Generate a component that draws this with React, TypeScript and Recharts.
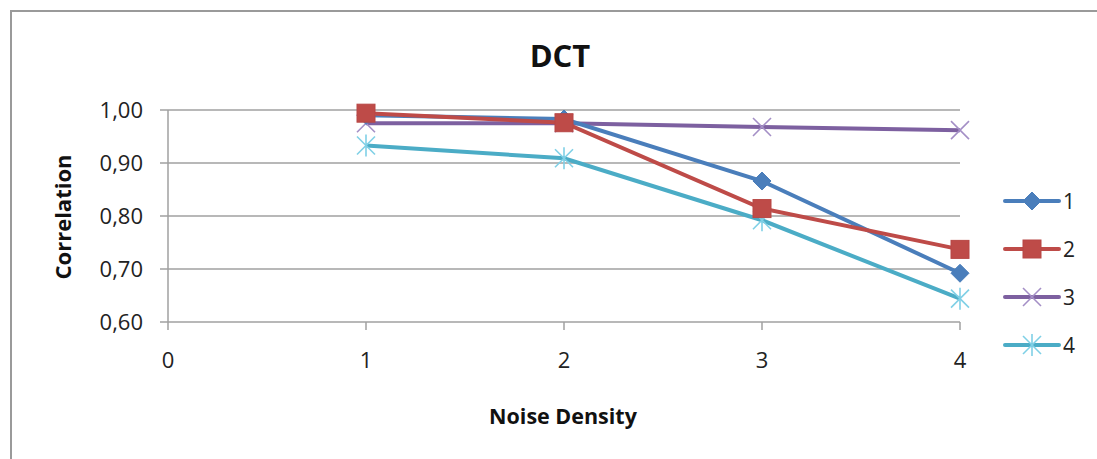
import React from "react";
import { LineChart, Line, XAxis, YAxis, CartesianGrid, Legend } from "recharts";

const noiseDensity = [1, 2, 3, 4];
const series1 = [0.99, 0.983, 0.866, 0.692];
const series2 = [0.994, 0.976, 0.814, 0.737];
const series3 = [0.975, 0.975, 0.968, 0.962];
const series4 = [0.933, 0.909, 0.792, 0.644];
const seriesNames = ["1", "2", "3", "4"];
const xTicks = [0, 1, 2, 3, 4];
const yTicks = [0.6, 0.7, 0.8, 0.9, 1.0];

const data = noiseDensity.map((x, i) => ({
  x,
  s1: series1[i],
  s2: series2[i],
  s3: series3[i],
  s4: series4[i],
}));

const FONT = "'Open Sans', 'DejaVu Sans', sans-serif";
const COLORS = ["#4a7ebb", "#be4b48", "#7d60a0", "#4bacc6"];
const MARK_COLORS = ["#4a7ebb", "#be4b48", "#a48fc6", "#7fd0e6"];

function Marker({ kind, cx, cy }: { kind: number; cx: number; cy: number }) {
  if (kind === 0) {
    const r = 9;
    return (
      <path
        d={`M${cx},${cy - r} L${cx + r},${cy} L${cx},${cy + r} L${cx - r},${cy} Z`}
        fill={MARK_COLORS[0]}
        stroke={MARK_COLORS[0]}
      />
    );
  }
  if (kind === 1) {
    const h = 9;
    return <rect x={cx - h} y={cy - h} width={2 * h} height={2 * h} fill={MARK_COLORS[1]} stroke="#b84744" strokeWidth={1} />;
  }
  if (kind === 2) {
    const h = 9;
    return (
      <g stroke={MARK_COLORS[2]} strokeWidth={1.6}>
        <line x1={cx - h} y1={cy - h} x2={cx + h} y2={cy + h} />
        <line x1={cx - h} y1={cy + h} x2={cx + h} y2={cy - h} />
      </g>
    );
  }
  const h = 9;
  return (
    <g stroke={MARK_COLORS[3]} strokeWidth={1.6}>
      <line x1={cx - h} y1={cy - h} x2={cx + h} y2={cy + h} />
      <line x1={cx - h} y1={cy + h} x2={cx + h} y2={cy - h} />
      <line x1={cx} y1={cy - h - 2} x2={cx} y2={cy + h + 2} />
    </g>
  );
}

const makeDot = (kind: number) => (props: any) => {
  const { cx, cy, index } = props;
  if (cx == null || cy == null) return <g key={`d${kind}-${index}`} />;
  return (
    <g key={`d${kind}-${index}`}>
      <Marker kind={kind} cx={cx} cy={cy} />
    </g>
  );
};

const LegendContent = () => (
  <div style={{ fontFamily: FONT }}>
    {seriesNames.map((name, i) => (
      <div key={name} style={{ display: "flex", alignItems: "center", height: 48 }}>
        <svg width={58} height={24} style={{ display: "block" }}>
          <line x1={2} y1={12} x2={56} y2={12} stroke={COLORS[i]} strokeWidth={4} strokeLinecap="round" />
          <Marker kind={i} cx={29} cy={12} />
        </svg>
        <span style={{ fontSize: 21, color: "#222", marginLeft: 2, lineHeight: "24px" }}>{name}</span>
      </div>
    ))}
  </div>
);

const fmt = (v: number) => v.toFixed(2).replace(".", ",");

export default function App() {
  return (
    <div style={{ position: "absolute", left: 0, top: 0, width: 1097, height: 459, background: "#fff", overflow: "hidden" }}>
      <div style={{ position: "absolute", left: 10, top: 10, width: 1087, height: 2, background: "#9a9a9a" }} />
      <div style={{ position: "absolute", left: 10, top: 10, width: 2, height: 449, background: "#9a9a9a" }} />
      <div
        style={{
          position: "absolute",
          left: 0,
          width: 1120,
          top: 34,
          textAlign: "center",
          fontFamily: FONT,
          fontWeight: 700,
          fontSize: 31,
          color: "#111",
        }}
      >
        DCT
      </div>
      <div
        style={{
          position: "absolute",
          left: 0,
          width: 1126,
          top: 401,
          textAlign: "center",
          fontFamily: FONT,
          fontWeight: 700,
          fontSize: 21.5,
          color: "#111",
        }}
      >
        Noise Density
      </div>
      <div
        style={{
          position: "absolute",
          left: 62,
          top: 217,
          transform: "translate(-50%, -50%) rotate(-90deg)",
          fontFamily: FONT,
          fontWeight: 700,
          fontSize: 22,
          color: "#111",
          whiteSpace: "nowrap",
        }}
      >
        Correlation
      </div>
      <div style={{ position: "absolute", left: 0, top: 0 }}>
        <LineChart width={1097} height={459} data={data} margin={{ top: 110, right: 47, bottom: 77, left: 68 }}>
          <CartesianGrid horizontal vertical={false} stroke="#a0a0a0" strokeWidth={1.5} />
          <XAxis
            dataKey="x"
            type="number"
            domain={[0, 4]}
            ticks={xTicks}
            axisLine={false}
            tickLine={{ stroke: "#a0a0a0", strokeWidth: 1.5 }}
            tickSize={8}
            tickMargin={22}
            height={60}
            tick={{ fontFamily: FONT, fontSize: 22, fill: "#222" }}
            interval={0}
          />
          <YAxis
            type="number"
            domain={[0.6, 1.0]}
            ticks={yTicks}
            tickFormatter={fmt}
            axisLine={{ stroke: "#a0a0a0", strokeWidth: 1.5 }}
            tickLine={{ stroke: "#a0a0a0", strokeWidth: 1.5 }}
            tickSize={8}
            tickMargin={17}
            width={100}
            tick={{ fontFamily: FONT, fontSize: 22, fill: "#222" }}
            interval={0}
          />
          <Legend
            layout="horizontal"
            verticalAlign="middle"
            align="right"
            content={<LegendContent />}
            wrapperStyle={{ position: "absolute", left: 1003, top: 177, width: 90 }}
          />
          <Line dataKey="s3" name="3" stroke={COLORS[2]} strokeWidth={4} dot={makeDot(2)} activeDot={false} isAnimationActive={false} />
          <Line dataKey="s4" name="4" stroke={COLORS[3]} strokeWidth={4} dot={makeDot(3)} activeDot={false} isAnimationActive={false} />
          <Line dataKey="s1" name="1" stroke={COLORS[0]} strokeWidth={4} dot={makeDot(0)} activeDot={false} isAnimationActive={false} />
          <Line dataKey="s2" name="2" stroke={COLORS[1]} strokeWidth={4} dot={makeDot(1)} activeDot={false} isAnimationActive={false} />
        </LineChart>
      </div>
    </div>
  );
}
